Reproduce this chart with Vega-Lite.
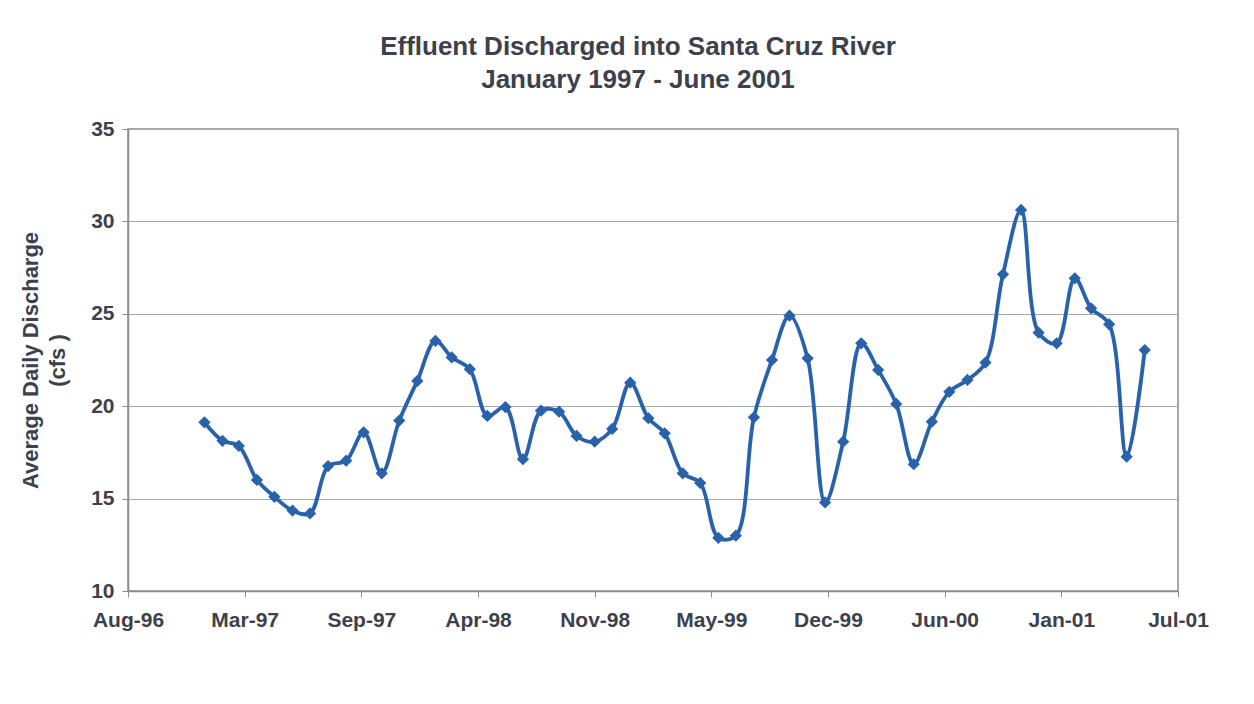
{
  "$schema": "https://vega.github.io/schema/vega-lite/v6.json",
  "autosize": "none",
  "width": 1050,
  "height": 462,
  "padding": {"left": 128, "top": 129, "right": 76, "bottom": 113},
  "background": "#ffffff",
  "config": {
    "font": "Liberation Sans",
    "view": {"stroke": "#8c8c8c", "strokeWidth": 1.5},
    "axis": {
      "labelFont": "Liberation Sans",
      "titleFont": "Liberation Sans",
      "labelFontWeight": "bold",
      "titleFontWeight": "bold",
      "labelColor": "#3c414b",
      "titleColor": "#3c414b",
      "domainColor": "#8c8c8c",
      "tickColor": "#8c8c8c",
      "gridColor": "#a8a8a8",
      "gridWidth": 1
    }
  },
  "title": {
    "text": ["Effluent Discharged into Santa Cruz River", "January 1997 -  June 2001"],
    "font": "Liberation Sans",
    "fontSize": 26,
    "fontWeight": "bold",
    "color": "#3c414b",
    "lineHeight": 33,
    "anchor": "middle",
    "dx": -15,
    "offset": 25
  },
  "data": {
    "format": {"parse": {"date": "date:'%Y-%m-%d'"}},
    "values": [
      {"date": "1997-01-01", "cfs": 19.13},
      {"date": "1997-02-01", "cfs": 18.13},
      {"date": "1997-03-01", "cfs": 17.85},
      {"date": "1997-04-01", "cfs": 16.01},
      {"date": "1997-05-01", "cfs": 15.10},
      {"date": "1997-06-01", "cfs": 14.35},
      {"date": "1997-07-01", "cfs": 14.20},
      {"date": "1997-08-01", "cfs": 16.76},
      {"date": "1997-09-01", "cfs": 17.05},
      {"date": "1997-10-01", "cfs": 18.59},
      {"date": "1997-11-01", "cfs": 16.37},
      {"date": "1997-12-01", "cfs": 19.22},
      {"date": "1998-01-01", "cfs": 21.37},
      {"date": "1998-02-01", "cfs": 23.53},
      {"date": "1998-03-01", "cfs": 22.64},
      {"date": "1998-04-01", "cfs": 22.00},
      {"date": "1998-05-01", "cfs": 19.47},
      {"date": "1998-06-01", "cfs": 19.95},
      {"date": "1998-07-01", "cfs": 17.13},
      {"date": "1998-08-01", "cfs": 19.76},
      {"date": "1998-09-01", "cfs": 19.70},
      {"date": "1998-10-01", "cfs": 18.39},
      {"date": "1998-11-01", "cfs": 18.08},
      {"date": "1998-12-01", "cfs": 18.77},
      {"date": "1999-01-01", "cfs": 21.27},
      {"date": "1999-02-01", "cfs": 19.35},
      {"date": "1999-03-01", "cfs": 18.53},
      {"date": "1999-04-01", "cfs": 16.37},
      {"date": "1999-05-01", "cfs": 15.85},
      {"date": "1999-06-01", "cfs": 12.88},
      {"date": "1999-07-01", "cfs": 12.99},
      {"date": "1999-08-01", "cfs": 19.40},
      {"date": "1999-09-01", "cfs": 22.50},
      {"date": "1999-10-01", "cfs": 24.90},
      {"date": "1999-11-01", "cfs": 22.59},
      {"date": "1999-12-01", "cfs": 14.79},
      {"date": "2000-01-01", "cfs": 18.08},
      {"date": "2000-02-01", "cfs": 23.40},
      {"date": "2000-03-01", "cfs": 21.96},
      {"date": "2000-04-01", "cfs": 20.12},
      {"date": "2000-05-01", "cfs": 16.86},
      {"date": "2000-06-01", "cfs": 19.16},
      {"date": "2000-07-01", "cfs": 20.78},
      {"date": "2000-08-01", "cfs": 21.42},
      {"date": "2000-09-01", "cfs": 22.36},
      {"date": "2000-10-01", "cfs": 27.14},
      {"date": "2000-11-01", "cfs": 30.62},
      {"date": "2000-12-01", "cfs": 23.98},
      {"date": "2001-01-01", "cfs": 23.40},
      {"date": "2001-02-01", "cfs": 26.92},
      {"date": "2001-03-01", "cfs": 25.30},
      {"date": "2001-04-01", "cfs": 24.43},
      {"date": "2001-05-01", "cfs": 17.27},
      {"date": "2001-06-01", "cfs": 23.04}
    ]
  },
  "encoding": {
    "x": {
      "field": "date",
      "type": "temporal",
      "scale": {
        "domain": [
          {"year": 1996, "month": 8, "date": 23},
          {"year": 2001, "month": 7, "date": 28}
        ]
      },
      "axis": {
        "title": null,
        "format": "%b-%y",
        "values": [
          {"year": 1996, "month": 8, "date": 23},
          {"year": 1997, "month": 3, "date": 11},
          {"year": 1997, "month": 9, "date": 27},
          {"year": 1998, "month": 4, "date": 15},
          {"year": 1998, "month": 11, "date": 1},
          {"year": 1999, "month": 5, "date": 20},
          {"year": 1999, "month": 12, "date": 6},
          {"year": 2000, "month": 6, "date": 23},
          {"year": 2001, "month": 1, "date": 9},
          {"year": 2001, "month": 7, "date": 28}
        ],
        "grid": false,
        "labelFontSize": 21,
        "labelPadding": 12,
        "tickSize": 6,
        "domainWidth": 1.5,
        "labelFlush": false,
        "labelOverlap": false
      }
    },
    "y": {
      "field": "cfs",
      "type": "quantitative",
      "scale": {"domain": [10, 35], "nice": false, "zero": false},
      "axis": {
        "title": ["Average Daily Discharge", "(cfs )"],
        "titleFontSize": 22,
        "titleLineHeight": 27,
        "titlePadding": 21,
        "values": [10, 15, 20, 25, 30, 35],
        "labelFontSize": 21,
        "labelPadding": 8,
        "tickSize": 6,
        "domainWidth": 1.5,
        "grid": true
      }
    }
  },
  "layer": [
    {
      "mark": {"type": "line", "interpolate": "catmull-rom", "color": "#2862aa", "strokeWidth": 3.8}
    },
    {
      "mark": {"type": "point", "shape": "diamond", "filled": true, "size": 150, "color": "#2862aa", "opacity": 1}
    }
  ]
}
